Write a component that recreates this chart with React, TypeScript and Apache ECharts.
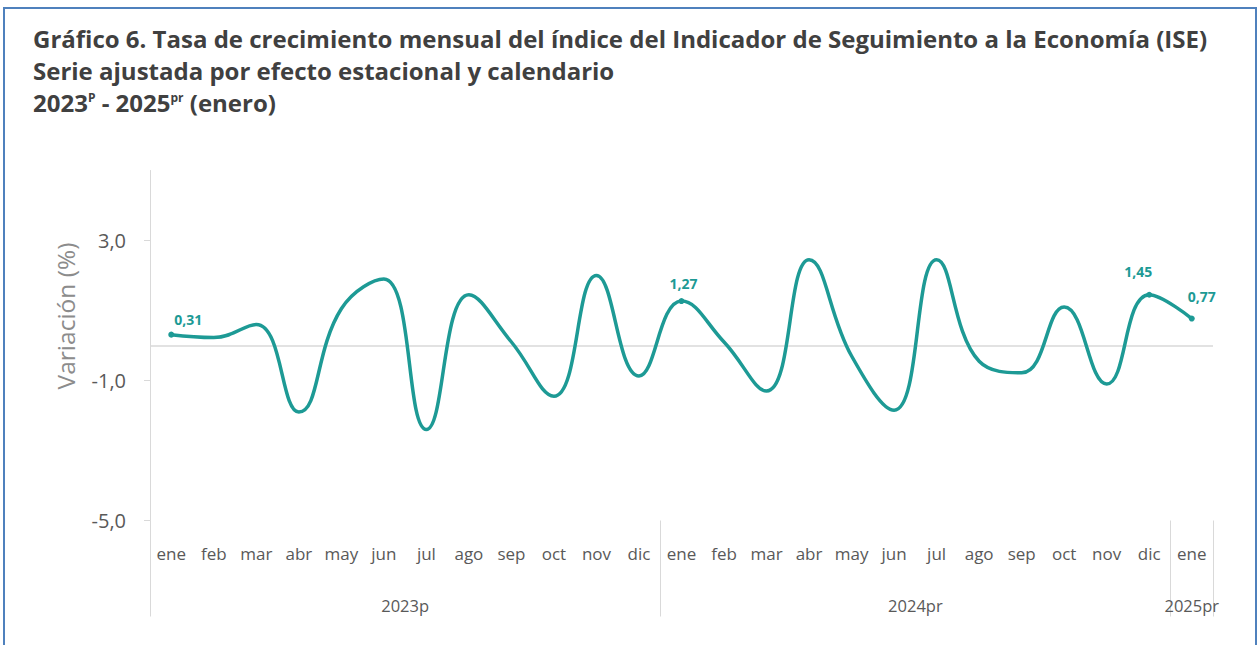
import React, { useEffect, useRef } from "react";
import * as echarts from "echarts";

const categories = [
  "ene", "feb", "mar", "abr", "may", "jun", "jul", "ago", "sep", "oct", "nov", "dic",
  "ene", "feb", "mar", "abr", "may", "jun", "jul", "ago", "sep", "oct", "nov", "dic",
  "ene",
];
const values = [
  0.31, 0.23, 0.6, -1.9, 1.05, 1.9, -2.4, 1.45, 0.1, -1.45, 2.0, -0.87,
  1.27, 0.1, -1.3, 2.45, -0.3, -1.85, 2.45, -0.45, -0.78, 1.1, -1.1, 1.45,
  0.77,
];
const labeledIndex = [0, 12, 23, 24];
const labelOffsets = [[17, 0], [2, -3], [-11, -8], [10, -7]];
const yearLabels = ["2023p", "2024pr", "2025pr"];
const yearSizes = [12, 12, 1];
const yTicks = [-5, -1, 3];

const TEAL = "#1d9a95";
const GRAY_TXT = "#595959";
const AXIS_GRAY = "#d9d9d9";
const FONT = "'Open Sans', 'Noto Sans', sans-serif";

export default function App() {
  const ref = useRef<HTMLDivElement>(null);
  useEffect(() => {
    if (!ref.current) return;
    const chart = echarts.init(ref.current, undefined, { renderer: "svg" });

    const bounds: number[] = [0];
    yearSizes.forEach((s) => bounds.push(bounds[bounds.length - 1] + s));
    const centers = yearSizes.map((s, i) => bounds[i] + s / 2);

    const fmt = (v: number) => v.toFixed(1).replace(".", ",");

    const data = values.map((v, i) => {
      const k = labeledIndex.indexOf(i);
      if (k < 0) return { value: v, symbol: "none" };
      return {
        value: v,
        symbol: "circle",
        symbolSize: 6,
        label: {
          show: true,
          position: "top",
          offset: labelOffsets[k],
          formatter: (p: any) => p.value.toFixed(2).replace(".", ","),
          color: TEAL,
          fontWeight: "bold",
          fontSize: 14,
          fontFamily: FONT,
        },
      };
    });

    chart.setOption({
      animation: false,
      backgroundColor: "#ffffff",
      title: {
        left: 33,
        top: 22,
        padding: 0,
        text:
          "{b|Gráfico 6. Tasa de crecimiento mensual del índice del Indicador de Seguimiento a la Economía (ISE)}\n" +
          "{b|Serie ajustada por efecto estacional y calendario}\n" +
          "{b|2023}{s|P}{b| - 2025}{s|pr}{b| (enero)}",
        textStyle: {
          rich: {
            b: {
              fontSize: 24,
              lineHeight: 32,
              fontWeight: "bold",
              color: "#404040",
              fontFamily: FONT,
            },
            s: {
              fontSize: 12,
              lineHeight: 20,
              verticalAlign: "top",
              padding: [5, 0, 0, 0],
              fontWeight: "bold",
              color: "#404040",
              fontFamily: FONT,
            },
          },
        },
      },
      graphic: [
        {
          type: "rect",
          shape: { x: 4, y: 8, width: 1252, height: 660 },
          style: { fill: "none", stroke: "#4f81bd", lineWidth: 2 },
          silent: true,
          z: 100,
        },
        {
          type: "text",
          x: 65,
          y: 316,
          rotation: Math.PI / 2,
          style: {
            text: "Variación (%)",
            fill: "#8c8c8c",
            fontSize: 24.5,
            fontFamily: FONT,
            align: "center",
            verticalAlign: "middle",
          },
          silent: true,
        },
      ],
      grid: { left: 150, right: 47, top: 170.5, bottom: 124.5, containLabel: false },
      xAxis: [
        {
          type: "category",
          data: categories,
          boundaryGap: true,
          position: "bottom",
          axisLine: { show: false },
          axisTick: { show: false },
          axisLabel: {
            interval: 0,
            margin: 24,
            color: GRAY_TXT,
            fontSize: 17,
            fontFamily: FONT,
          },
          splitLine: { show: false },
        },
        {
          type: "value",
          min: 0,
          max: values.length,
          position: "bottom",
          axisLine: { show: false },
          splitLine: { show: false },
          axisTick: {
            show: true,
            length: 96,
            customValues: bounds,
            lineStyle: { color: AXIS_GRAY, width: 1 },
          },
          axisLabel: {
            show: true,
            customValues: centers,
            margin: 76,
            color: GRAY_TXT,
            fontSize: 16.5,
            fontFamily: FONT,
            formatter: (v: number) => {
              const i = centers.findIndex((c) => Math.abs(c - v) < 1e-6);
              return i >= 0 ? yearLabels[i] : "";
            },
          },
        },
      ],
      yAxis: {
        type: "value",
        min: -5,
        max: 5,
        axisLine: { show: true, lineStyle: { color: AXIS_GRAY, width: 1 } },
        axisTick: {
          show: true,
          length: 6,
          customValues: yTicks,
          lineStyle: { color: AXIS_GRAY },
        },
        axisLabel: {
          customValues: yTicks,
          formatter: fmt,
          margin: 24,
          color: GRAY_TXT,
          fontSize: 20,
          fontFamily: FONT,
        },
        splitLine: { show: false },
      },
      series: [
        {
          type: "line",
          xAxisIndex: 0,
          data,
          smooth: 0.45,
          showSymbol: true,
          itemStyle: { color: TEAL },
          lineStyle: { color: TEAL, width: 3.5 },
          markLine: {
            silent: true,
            symbol: ["none", "none"],
            label: { show: false },
            lineStyle: { color: AXIS_GRAY, type: "solid", width: 1.5 },
            data: [{ yAxis: 0 }],
            z: 1,
          },
          z: 5,
        },
      ],
    });
    return () => chart.dispose();
  }, []);
  return (
    <div
      ref={ref}
      style={{ position: "absolute", left: 0, top: 0, width: 1260, height: 645 }}
    />
  );
}
